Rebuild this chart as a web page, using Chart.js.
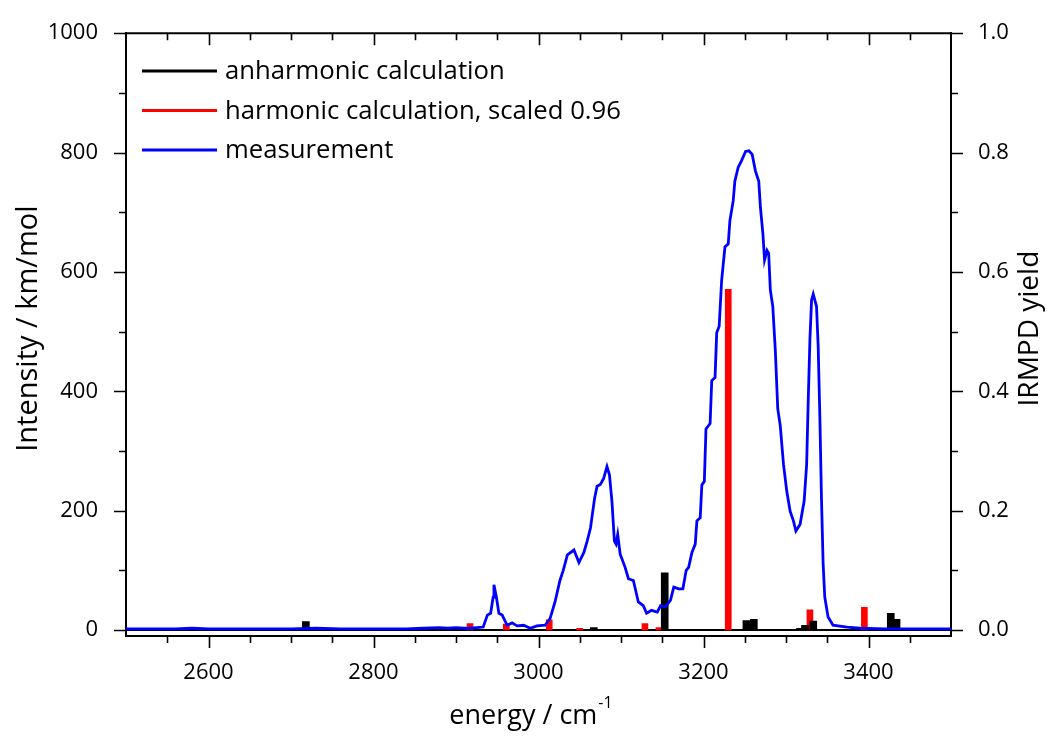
<!DOCTYPE html>
<html>
<head>
<meta charset="utf-8">
<script src="https://cdn.jsdelivr.net/npm/chart.js@4.4.1/dist/chart.umd.min.js"></script>
<style>
  body { margin: 0; background: #fff; }
  #wrap { width: 1051px; height: 744px; }
</style>
</head>
<body>
<div id="wrap"><canvas id="irChart" width="1051" height="744"></canvas></div>
<script>
// stick spectra (km/mol)
const anharmEnergy = [2718, 3067, 3153, 3252, 3261, 3317, 3323, 3333, 3427, 3434];
const anharmIntensity = [14, 4, 96, 16, 18, 3, 8, 15, 28, 18];

const harmEnergy = [2917, 2961, 3013, 3050, 3129, 3146, 3230, 3329, 3395];
const harmIntensity = [11, 10, 17, 3, 11, 4, 571, 34, 38];

// IRMPD measurement (yield)
const measEnergy = [
  2500, 2560, 2580, 2600, 2700, 2730, 2760, 2840, 2860, 2880, 2890, 2900, 2910,
  2917, 2933, 2938, 2942, 2945, 2946, 2949, 2952, 2956, 2962, 2968, 2974, 2982,
  2990, 2998, 3008, 3014, 3020, 3026, 3030, 3035, 3043, 3049, 3055, 3059, 3063,
  3068, 3071, 3075, 3079, 3083, 3086, 3089, 3092, 3094, 3096, 3099, 3105, 3109,
  3115, 3121, 3127, 3131, 3137, 3144, 3148, 3154, 3160, 3164, 3170, 3175, 3179,
  3182, 3186, 3190, 3192, 3196, 3198, 3201, 3203, 3208, 3210, 3214, 3216, 3219,
  3222, 3226, 3230, 3232, 3236, 3238, 3242, 3246, 3251, 3255, 3259, 3263, 3267,
  3269, 3272, 3274, 3277, 3279, 3281, 3284, 3287, 3290, 3293, 3297, 3301, 3305,
  3309, 3312, 3317, 3322, 3325, 3327, 3329, 3331, 3333, 3337, 3339, 3341, 3343,
  3345, 3347, 3351, 3357, 3374, 3390, 3420, 3500
];
const measYield = [
  0.002, 0.002, 0.003, 0.002, 0.002, 0.003, 0.002, 0.002, 0.003, 0.004, 0.003, 0.004, 0.003,
  0.003, 0.005, 0.025, 0.028, 0.055, 0.076, 0.055, 0.028, 0.025, 0.008, 0.012, 0.007, 0.008,
  0.003, 0.007, 0.008, 0.019, 0.047, 0.083, 0.100, 0.126, 0.134, 0.113, 0.130, 0.149, 0.171,
  0.221, 0.241, 0.244, 0.254, 0.274, 0.260, 0.216, 0.149, 0.144, 0.160, 0.127, 0.105, 0.086,
  0.083, 0.047, 0.041, 0.028, 0.033, 0.030, 0.041, 0.039, 0.050, 0.072, 0.069, 0.069, 0.100,
  0.105, 0.130, 0.144, 0.183, 0.188, 0.243, 0.249, 0.337, 0.346, 0.418, 0.423, 0.498, 0.509,
  0.586, 0.642, 0.647, 0.686, 0.719, 0.752, 0.775, 0.786, 0.802, 0.803, 0.797, 0.769, 0.752,
  0.708, 0.664, 0.620, 0.636, 0.631, 0.570, 0.542, 0.470, 0.371, 0.343, 0.277, 0.232, 0.199,
  0.183, 0.166, 0.177, 0.216, 0.277, 0.387, 0.487, 0.553, 0.563, 0.542, 0.476, 0.360, 0.221,
  0.111, 0.055, 0.022, 0.008, 0.005, 0.003, 0.002, 0.002
];

const xTicks = [2600, 2800, 3000, 3200, 3400];
const yTicks = [0, 200, 400, 600, 800, 1000];
const y2Ticks = [0, 0.2, 0.4, 0.6, 0.8, 1.0];

const FONT = 'Open Sans';

const toPoints = (xs, ys) => xs.map((x, i) => ({ x: x, y: ys[i] }));

// frame, minor/major tick marks, inside legend and axis titles
const decorPlugin = {
  id: 'decor',
  afterDraw(chart) {
    const { ctx, chartArea: area, scales } = chart;
    const x = scales.x, y = scales.y, y2 = scales.y2;
    ctx.save();
    ctx.strokeStyle = '#000';
    ctx.lineWidth = 2;

    // top frame line
    ctx.beginPath();
    ctx.moveTo(area.left - 1, area.top);
    ctx.lineTo(area.right + 1, area.top);
    ctx.stroke();

    ctx.lineWidth = 1.6;
    ctx.beginPath();
    for (let v = 2550; v < 3500; v += 50) {
      const px = Math.round(x.getPixelForValue(v)) + 0.5;
      const len = v % 200 === 0 ? 12 : 7;
      ctx.moveTo(px, area.bottom);
      ctx.lineTo(px, area.bottom + len);
      ctx.moveTo(px, area.top);
      ctx.lineTo(px, area.top + len);
    }
    for (let v = 0; v <= 1000; v += 100) {
      const len = v % 200 === 0 ? 12 : 7;
      const py = Math.round(y.getPixelForValue(v)) + 0.5;
      ctx.moveTo(area.left, py);
      ctx.lineTo(area.left - len, py);
      const py2 = Math.round(y2.getPixelForValue(v / 1000)) + 0.5;
      ctx.moveTo(area.right, py2);
      ctx.lineTo(area.right + len, py2);
    }
    ctx.stroke();

    // legend
    const items = chart.data.datasets.filter(d => d.inLegend);
    items.sort((a, b) => a.legendIndex - b.legendIndex);
    ctx.font = '25.7px "' + FONT + '"';
    ctx.textBaseline = 'middle';
    ctx.textAlign = 'left';
    items.forEach((d, i) => {
      const ly = 71 + i * 39.5;
      ctx.strokeStyle = d.legendColor;
      ctx.lineWidth = 3;
      ctx.beginPath();
      ctx.moveTo(142, ly);
      ctx.lineTo(217, ly);
      ctx.stroke();
      ctx.fillStyle = '#000';
      ctx.fillText(d.label, 225, ly + 1);
    });

    // axis titles
    const midY = (area.top + area.bottom) / 2 - 6;
    ctx.fillStyle = '#000';
    ctx.font = '29px "' + FONT + '"';
    ctx.textAlign = 'center';
    ctx.save();
    ctx.translate(29, midY);
    ctx.rotate(-Math.PI / 2);
    ctx.fillText('Intensity / km/mol', 0, 0);
    ctx.restore();
    ctx.font = '28px "' + FONT + '"';
    ctx.save();
    ctx.translate(1030, midY);
    ctx.rotate(-Math.PI / 2);
    ctx.fillText('IRMPD yield', 0, 0);
    ctx.restore();

    const main = 'energy / cm';
    const sup = '-1';
    ctx.font = '27px "' + FONT + '"';
    const w1 = ctx.measureText(main).width;
    ctx.font = '16px "' + FONT + '"';
    const w2 = ctx.measureText(sup).width;
    const startX = (area.left + area.right) / 2 - 8 - (w1 + w2) / 2;
    ctx.textAlign = 'left';
    ctx.font = '27px "' + FONT + '"';
    ctx.fillText(main, startX, 716);
    ctx.font = '16px "' + FONT + '"';
    ctx.fillText(sup, startX + w1 + 1, 703);
    ctx.restore();
  }
};

const tickFont = { family: FONT, size: 22 };

new Chart(document.getElementById('irChart').getContext('2d'), {
  type: 'bar',
  data: {
    datasets: [
      {
        type: 'line',
        label: 'measurement',
        data: toPoints(measEnergy, measYield),
        yAxisID: 'y2',
        borderColor: '#0000ff',
        borderWidth: 2.8,
        pointRadius: 0,
        tension: 0,
        fill: false,
        order: 0,
        inLegend: true,
        legendIndex: 2,
        legendColor: '#0000ff'
      },
      {
        label: 'anharmonic calculation',
        data: toPoints(anharmEnergy, anharmIntensity),
        yAxisID: 'y',
        backgroundColor: '#000000',
        barThickness: 7,
        grouped: false,
        order: 1,
        inLegend: true,
        legendIndex: 0,
        legendColor: '#000000'
      },
      {
        label: 'harmonic calculation, scaled 0.96',
        data: toPoints(harmEnergy, harmIntensity),
        yAxisID: 'y',
        backgroundColor: '#ff0000',
        barThickness: 6,
        grouped: false,
        order: 2,
        inLegend: true,
        legendIndex: 1,
        legendColor: '#ff0000'
      },
      {
        type: 'line',
        label: 'zero',
        data: [{ x: 2500, y: 0 }, { x: 3500, y: 0 }],
        yAxisID: 'y',
        borderColor: '#000000',
        borderWidth: 2,
        pointRadius: 0,
        order: 3
      }
    ]
  },
  options: {
    responsive: false,
    animation: false,
    layout: { padding: { top: 28 } },
    plugins: {
      legend: { display: false },
      tooltip: { enabled: false }
    },
    scales: {
      x: {
        type: 'linear',
        min: 2500,
        max: 3500,
        offset: false,
        grid: { display: false },
        border: { display: true, color: '#000', width: 2 },
        ticks: {
          font: tickFont, color: '#000', padding: 16, autoSkip: false, maxRotation: 0,
          callback: (v) => String(v)
        },
        afterBuildTicks: (scale) => { scale.ticks = xTicks.map(v => ({ value: v })); },
        afterFit: (scale) => { scale.height = 108; }
      },
      y: {
        position: 'left',
        min: -10,
        max: 1000,
        grid: { display: false },
        border: { display: true, color: '#000', width: 2 },
        ticks: { font: tickFont, color: '#000', padding: 20, callback: (v) => String(v) },
        afterBuildTicks: (scale) => { scale.ticks = yTicks.map(v => ({ value: v })); },
        afterFit: (scale) => { scale.width = 126; }
      },
      y2: {
        position: 'right',
        min: -0.01,
        max: 1.0,
        grid: { display: false },
        border: { display: true, color: '#000', width: 2 },
        ticks: {
          font: tickFont,
          color: '#000',
          padding: 19,
          callback: (v) => Number(v).toFixed(1)
        },
        afterBuildTicks: (scale) => { scale.ticks = y2Ticks.map(v => ({ value: v })); },
        afterFit: (scale) => { scale.width = 100; }
      }
    }
  },
  plugins: [decorPlugin]
});
</script>
</body>
</html>
